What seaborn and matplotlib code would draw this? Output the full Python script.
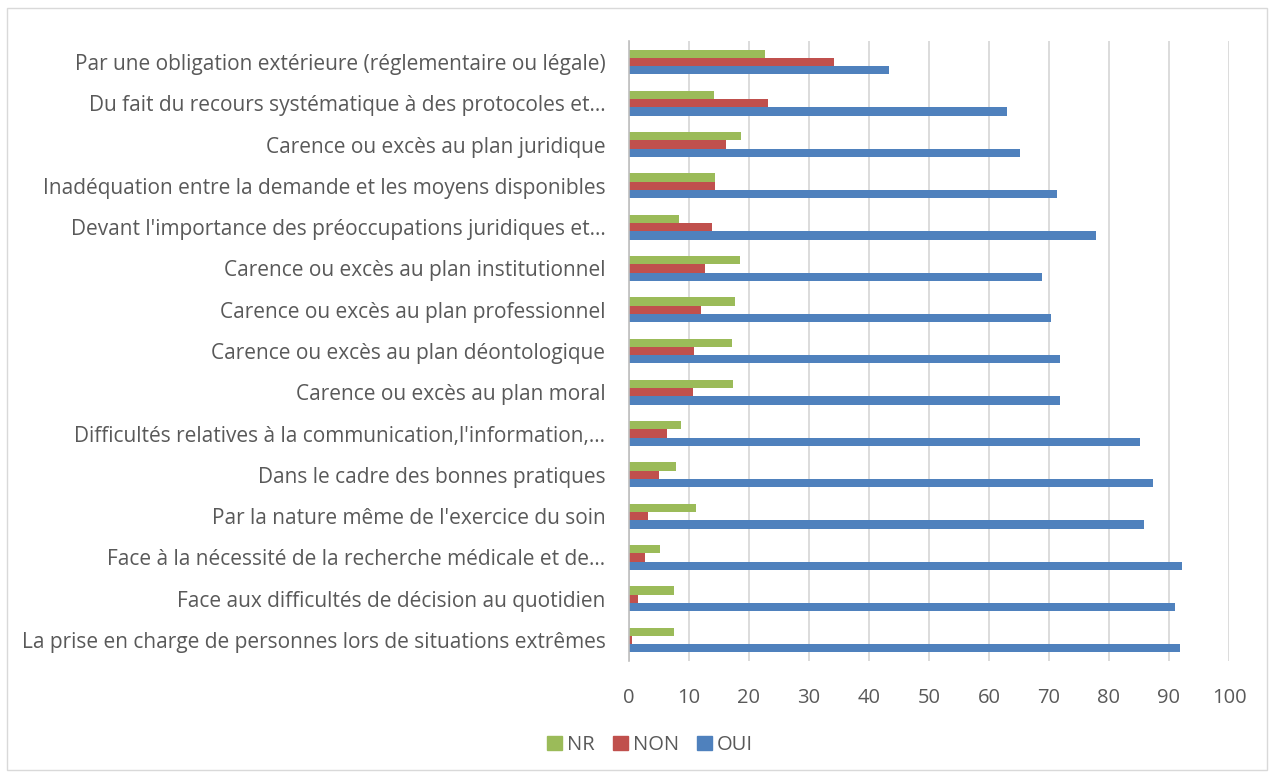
import matplotlib as mpl
mpl.use("Agg")
import matplotlib.pyplot as plt
import numpy as np
import pandas as pd
import seaborn as sns

categories = [
    "Par une obligation extérieure (réglementaire ou légale)",
    "Du fait du recours systématique à des protocoles et…",
    "Carence ou excès au plan juridique",
    "Inadéquation entre la demande et les moyens disponibles",
    "Devant l'importance des préoccupations juridiques et…",
    "Carence ou excès au plan institutionnel",
    "Carence ou excès au plan professionnel",
    "Carence ou excès au plan déontologique",
    "Carence ou excès au plan moral",
    "Difficultés relatives à la communication,l'information,…",
    "Dans le cadre des bonnes pratiques",
    "Par la nature même de l'exercice du soin",
    "Face à la nécessité de la recherche médicale et de…",
    "Face aux difficultés de décision au quotidien",
    "La prise en charge de personnes lors de situations extrêmes",
]
nr = [22.6, 14.1, 18.7, 14.4, 8.3, 18.5, 17.7, 17.2, 17.3, 8.6, 7.8, 11.1, 5.2, 7.5, 7.5]
non = [34.2, 23.1, 16.2, 14.4, 13.8, 12.6, 12.0, 10.9, 10.7, 6.3, 5.0, 3.1, 2.6, 1.5, 0.5]
oui = [43.4, 63.0, 65.1, 71.3, 77.9, 68.9, 70.3, 71.8, 71.9, 85.2, 87.3, 85.8, 92.2, 91.0, 91.9]
series = ["NR", "NON", "OUI"]
colors = ["#9BBB59", "#C0504D", "#4F81BD"]

df = pd.DataFrame({"cat": categories, "NR": nr, "NON": non, "OUI": oui})
long = df.melt(id_vars="cat", var_name="serie", value_name="val")

sns.set_style("white")
plt.rcParams["font.family"] = ["Open Sans", "DejaVu Sans"]
text_col = "#595959"

fig = plt.figure(figsize=(12.69, 7.76), dpi=100)
ax = fig.add_axes([629 / 1269, 1 - 660.6 / 776, 600 / 1269, (660.6 - 41.4) / 776])

sns.barplot(data=long, y="cat", x="val", hue="serie", hue_order=series,
            order=categories, palette=colors, orient="h", width=0.6,
            saturation=1, linewidth=0, ax=ax, legend=False)

ax.set_xlim(0, 100)
ax.set_xticks(np.arange(0, 101, 10))
ax.set_xlabel("")
ax.set_ylabel("")
ax.grid(axis="x", color="#d9d9d9", linewidth=1.3)
ax.set_axisbelow(True)
for s in ["top", "right", "bottom"]:
    ax.spines[s].set_visible(False)
ax.spines["left"].set_color("#bfbfbf")
ax.spines["left"].set_linewidth(1.2)
ax.set_ylim(len(categories) - 0.5, -0.5)
ax.set_yticks(np.arange(-0.5, len(categories)), minor=True)
ax.tick_params(axis="y", which="major", length=0, pad=17, labelsize=15, labelcolor=text_col)
ax.tick_params(axis="y", which="minor", length=5, color="#bfbfbf", width=1)
ax.tick_params(axis="x", length=0, pad=20, labelsize=14.5, labelcolor=text_col)

handles = [mpl.patches.Patch(color=c, label=s) for s, c in zip(series, colors)]
fig.legend(handles=handles, loc="center", bbox_to_anchor=(650 / 1269, 1 - 745 / 776),
           ncol=3, frameon=False, fontsize=14.5, labelcolor=text_col,
           handlelength=0.75, handleheight=0.75, handletextpad=0.25, columnspacing=0.9)

fig.patches.append(mpl.patches.Rectangle((7 / 1269, 6 / 776), 1260 / 1269, 762 / 776,
                                         transform=fig.transFigure, fill=False,
                                         edgecolor="#d9d9d9", linewidth=1))

fig.savefig("out.png", dpi=100)
plt.close(fig)
